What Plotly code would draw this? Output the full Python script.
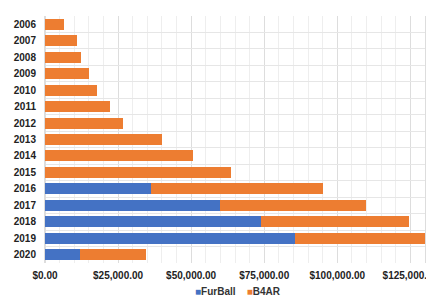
import plotly.graph_objects as go

years = ["2006","2007","2008","2009","2010","2011","2012","2013","2014","2015","2016","2017","2018","2019","2020"]
furball = [0,0,0,0,0,0,0,0,0,0,36200,59870,73870,85620,11950]
b4ar = [6590,10930,12190,15130,17760,22200,26640,40060,50550,63630,58980,49860,50680,45100,22540]
series_names = ["FurBall", "B4AR"]
colors = ["#4472C4", "#ED7D31"]

fig = go.Figure()
fig.add_trace(go.Bar(y=years, x=furball, name=series_names[0], orientation="h",
                     marker=dict(color=colors[0], line=dict(width=0)), showlegend=False))
fig.add_trace(go.Bar(y=years, x=b4ar, name=series_names[1], orientation="h",
                     marker=dict(color=colors[1], line=dict(width=0)), showlegend=False))

legend_text = "&nbsp;&nbsp;&nbsp;&nbsp;".join(
    f"<span style='color:{c}'>■</span><b>{n}</b>" for n, c in zip(series_names, colors))
fig.add_annotation(text=legend_text, xref="paper", yref="paper", x=0.508, y=-0.117,
                   xanchor="center", yanchor="middle", showarrow=False,
                   font=dict(size=10, color="#333333", family="Liberation Sans, Arial"))

# page body has an 8px margin, so the figure is 8px smaller than the window
fig.update_layout(
    barmode="stack",
    bargap=0.33,
    width=426, height=293,
    margin=dict(l=37, r=9, t=8, b=38, autoexpand=False),
    plot_bgcolor="white", paper_bgcolor="white",
    font=dict(family="Liberation Sans, Arial", size=10, color="#222222"),
    showlegend=False,
    xaxis=dict(range=[0, 130000], dtick=25000, tickformat="$,.2f", showgrid=True,
               gridcolor="#dddddd", gridwidth=1, zeroline=True, zerolinecolor="#dddddd",
               tickfont=dict(size=10, weight="bold", color="#222222"),
               minor=dict(dtick=5000, showgrid=True, gridcolor="#eeeeee", gridwidth=1),
               showline=False, ticks="", automargin=False, ticklabelstandoff=5,
               ticklabeloverflow="allow"),
    yaxis=dict(autorange="reversed", tickson="boundaries", showgrid=True, gridcolor="#e6e6e6",
               tickfont=dict(size=10, weight="bold", color="#222222"), ticks="", automargin=False,
               showline=True, linecolor="#dddddd", mirror=True, ticklabelstandoff=6),
)
fig.write_html("out.html")
